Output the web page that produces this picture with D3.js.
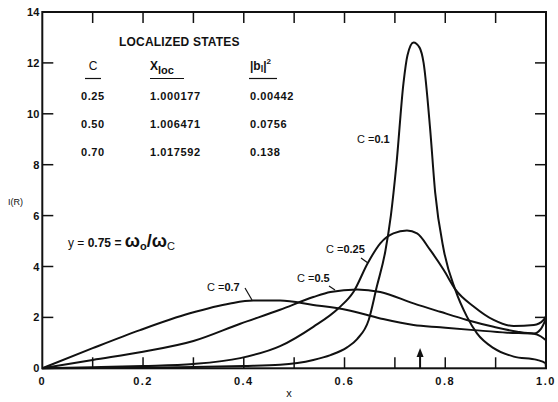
<!DOCTYPE html>
<html>
<head>
<meta charset="utf-8">
<script src="https://d3js.org/d3.v7.min.js"></script>
<style>
  body { margin: 0; background: #fff; }
  svg { font-family: "Liberation Sans", Arial, sans-serif; }
  .tick-label { font-size: 11px; font-weight: bold; fill: #111; }
  .curve { fill: none; stroke: #111; stroke-width: 2; }
</style>
</head>
<body>
<div id="chart"></div>
<script>
// ---- data ----
var xTicks = [0, 0.2, 0.4, 0.6, 0.8, 1.0];
var xTickLabels = ["0", "0.2", "0.4", "0.6", "0.8", "1.0"];
var yTicks = [0, 2, 4, 6, 8, 10, 12, 14];
var minorX = [0.1, 0.2, 0.3, 0.4, 0.5, 0.6, 0.7, 0.8, 0.9];

// C = 0.1
var c01X = [0, 0.1, 0.2, 0.3, 0.4, 0.472, 0.538, 0.572, 0.605, 0.625, 0.648, 0.664, 0.681, 0.692, 0.703, 0.717, 0.725, 0.737, 0.749, 0.757, 0.770, 0.780, 0.797, 0.820, 0.843, 0.863, 0.896, 0.936, 0.982, 0.999, 1.0];
var c01Y = [0, 0.01, 0.03, 0.05, 0.09, 0.14, 0.33, 0.52, 0.82, 1.15, 1.9, 3.2, 4.6, 6.0, 8.0, 11.2, 12.3, 12.8, 12.6, 12.0, 9.4, 6.9, 4.65, 3.08, 2.03, 1.37, 0.79, 0.46, 0.33, 0.2, 0.0];
// C = 0.25
var c025X = [0, 0.1, 0.2, 0.3, 0.393, 0.472, 0.538, 0.588, 0.618, 0.646, 0.671, 0.697, 0.724, 0.744, 0.770, 0.797, 0.82, 0.857, 0.896, 0.936, 0.976, 0.995, 1.0];
var c025Y = [0, 0.04, 0.09, 0.17, 0.4, 0.87, 1.63, 2.36, 3.01, 4.13, 4.91, 5.30, 5.41, 5.30, 4.65, 3.86, 3.1, 2.42, 1.90, 1.66, 1.70, 1.90, 2.05];
// C = 0.5
var c05X = [0, 0.1, 0.2, 0.3, 0.393, 0.472, 0.538, 0.572, 0.625, 0.671, 0.737, 0.79, 0.843, 0.896, 0.943, 0.976, 0.99, 1.0];
var c05Y = [0, 0.33, 0.65, 1.07, 1.75, 2.3, 2.8, 3.0, 3.1, 3.0, 2.55, 2.22, 1.9, 1.63, 1.44, 1.37, 1.55, 1.95];
// C = 0.7
var c07X = [0, 0.1, 0.194, 0.293, 0.373, 0.419, 0.472, 0.538, 0.605, 0.671, 0.737, 0.79, 0.857, 0.923, 0.976, 0.99, 1.0];
var c07Y = [0, 0.79, 1.50, 2.16, 2.55, 2.66, 2.66, 2.49, 2.29, 1.96, 1.70, 1.61, 1.50, 1.40, 1.36, 1.25, 1.1];

// localized states table
var tableC = ["0.25", "0.50", "0.70"];
var tableXloc = ["1.000177", "1.006471", "1.017592"];
var tableB = ["0.00442", "0.0756", "0.138"];

var arrowX = 0.75, arrowTop = 0.8;

// ---- set-up ----
var W = 558, H = 402;
var x = d3.scaleLinear().domain([0, 1]).range([42.3, 546]);
var y = d3.scaleLinear().domain([0, 14]).range([368.3, 12]);

var svg = d3.select("#chart").append("svg")
    .attr("width", W).attr("height", H);

// frame
svg.append("rect")
    .attr("x", x(0)).attr("y", y(14))
    .attr("width", x(1) - x(0)).attr("height", y(0) - y(14))
    .attr("fill", "none").attr("stroke", "#111").attr("stroke-width", 2);

// inward ticks
var tickLen = 11;
svg.selectAll("line.tb").data(minorX).enter().append("line")
    .attr("x1", d => x(d)).attr("x2", d => x(d))
    .attr("y1", y(0)).attr("y2", y(0) - tickLen)
    .attr("stroke", "#111").attr("stroke-width", 1.5);
svg.selectAll("line.tt").data(minorX).enter().append("line")
    .attr("x1", d => x(d)).attr("x2", d => x(d))
    .attr("y1", y(14)).attr("y2", y(14) + tickLen)
    .attr("stroke", "#111").attr("stroke-width", 1.5);
var innerY = yTicks.filter(d => d > 0 && d < 14);
svg.selectAll("line.tl").data(innerY).enter().append("line")
    .attr("x1", x(0)).attr("x2", x(0) + tickLen)
    .attr("y1", d => y(d)).attr("y2", d => y(d))
    .attr("stroke", "#111").attr("stroke-width", 1.5);
svg.selectAll("line.tr").data(innerY).enter().append("line")
    .attr("x1", x(1)).attr("x2", x(1) - tickLen)
    .attr("y1", d => y(d)).attr("y2", d => y(d))
    .attr("stroke", "#111").attr("stroke-width", 1.5);

// tick labels
svg.selectAll("text.yl").data(yTicks).enter().append("text")
    .attr("class", "tick-label")
    .attr("x", x(0) - 3).attr("y", d => y(d) + 4)
    .attr("text-anchor", "end")
    .text(d => d);
svg.selectAll("text.xl").data(xTicks).enter().append("text")
    .attr("class", "tick-label")
    .attr("x", d => x(d)).attr("y", 385)
    .attr("text-anchor", "middle")
    .style("letter-spacing", "1.5px")
    .text((d, i) => xTickLabels[i]);

// axis titles
svg.append("text").attr("x", 289).attr("y", 397)
    .attr("text-anchor", "middle").attr("font-size", 11).attr("fill", "#111")
    .text("x");
svg.append("text").attr("x", 8).attr("y", 205)
    .attr("font-size", 9).attr("fill", "#111")
    .text("I(R)");

// curves
var line = d3.line()
    .x(d => x(d[0])).y(d => y(d[1]))
    .curve(d3.curveMonotoneX);
var series = [[c01X, c01Y], [c025X, c025Y], [c05X, c05Y], [c07X, c07Y]];
svg.selectAll("path.curve").data(series).enter().append("path")
    .attr("class", "curve")
    .attr("d", s => line(d3.zip(s[0], s[1])));

// arrow at x = 0.75
svg.append("line")
    .attr("x1", x(arrowX)).attr("x2", x(arrowX))
    .attr("y1", y(0)).attr("y2", y(arrowTop) + 4)
    .attr("stroke", "#111").attr("stroke-width", 2);
svg.append("path")
    .attr("d", "M" + x(arrowX) + "," + y(arrowTop) +
        "L" + (x(arrowX) - 3.5) + "," + (y(arrowTop) + 9) +
        "L" + (x(arrowX) + 3.5) + "," + (y(arrowTop) + 9) + "Z")
    .attr("fill", "#111");

// curve labels
function curveLabel(px, py, val, leader) {
    var t = svg.append("text").attr("x", px).attr("y", py)
        .attr("font-size", 11).attr("fill", "#111");
    t.append("tspan").text("C =");
    t.append("tspan").attr("font-weight", "bold").text(val);
    if (leader) {
        svg.append("line")
            .attr("x1", leader[0]).attr("y1", leader[1])
            .attr("x2", leader[2]).attr("y2", leader[3])
            .attr("stroke", "#111").attr("stroke-width", 1.2);
    }
}
curveLabel(357, 143, "0.1", null);
curveLabel(326, 253, "0.25", [361, 258, 368, 263]);
curveLabel(297, 282, "0.5", [329, 286, 335, 290]);
curveLabel(207, 291, "0.7", [245, 288, 252, 300]);

// localized states table
svg.append("text").attr("x", 119).attr("y", 46)
    .attr("font-size", 12).attr("font-weight", "bold").attr("fill", "#111")
    .style("letter-spacing", "0.2px")
    .text("LOCALIZED STATES");
svg.append("text").attr("x", 93).attr("y", 70).attr("text-anchor", "middle")
    .attr("font-size", 12).attr("fill", "#111").text("C");
var xh = svg.append("text").attr("x", 150).attr("y", 70)
    .attr("font-size", 12).attr("font-weight", "bold").attr("fill", "#111");
xh.append("tspan").text("X");
xh.append("tspan").attr("font-size", 11).attr("dy", 4).text("loc");
var bh = svg.append("text").attr("x", 250).attr("y", 70)
    .attr("font-size", 12).attr("font-weight", "bold").attr("fill", "#111");
bh.append("tspan").text("|b");
bh.append("tspan").attr("font-size", 9).attr("dy", 2).text("l");
bh.append("tspan").attr("dy", -2).text("|");
bh.append("tspan").attr("font-size", 8).attr("dy", -6).text("2");
[[85, 101], [150, 184], [249, 277]].forEach(function(u) {
    svg.append("line").attr("x1", u[0]).attr("x2", u[1])
        .attr("y1", 78.5).attr("y2", 78.5)
        .attr("stroke", "#111").attr("stroke-width", 1.2);
});
var rowY = [99.5, 127.5, 155.7];
tableC.forEach(function(c, i) {
    [[81, c], [150, tableXloc[i]], [250, tableB[i]]].forEach(function(cell) {
        svg.append("text").attr("x", cell[0]).attr("y", rowY[i])
            .attr("font-size", 11).attr("font-weight", "bold").attr("fill", "#111")
            .style("letter-spacing", "0.6px")
            .text(cell[1]);
    });
});

// y = 0.75 = wo/wc
var eq = svg.append("text").attr("x", 68).attr("y", 247)
    .attr("font-size", 12).attr("fill", "#111");
eq.append("tspan").text("y = ");
eq.append("tspan").attr("font-weight", "bold").text("0.75 = ");
eq.append("tspan").attr("font-weight", "bold").attr("font-size", 18).text("ω");
eq.append("tspan").attr("font-weight", "bold").attr("font-size", 11).attr("dy", 3).text("o");
eq.append("tspan").attr("font-weight", "bold").attr("font-size", 18).attr("dy", -3).text("/ω");
eq.append("tspan").attr("font-size", 11).attr("dy", 3).text("C");
</script>
</body>
</html>
